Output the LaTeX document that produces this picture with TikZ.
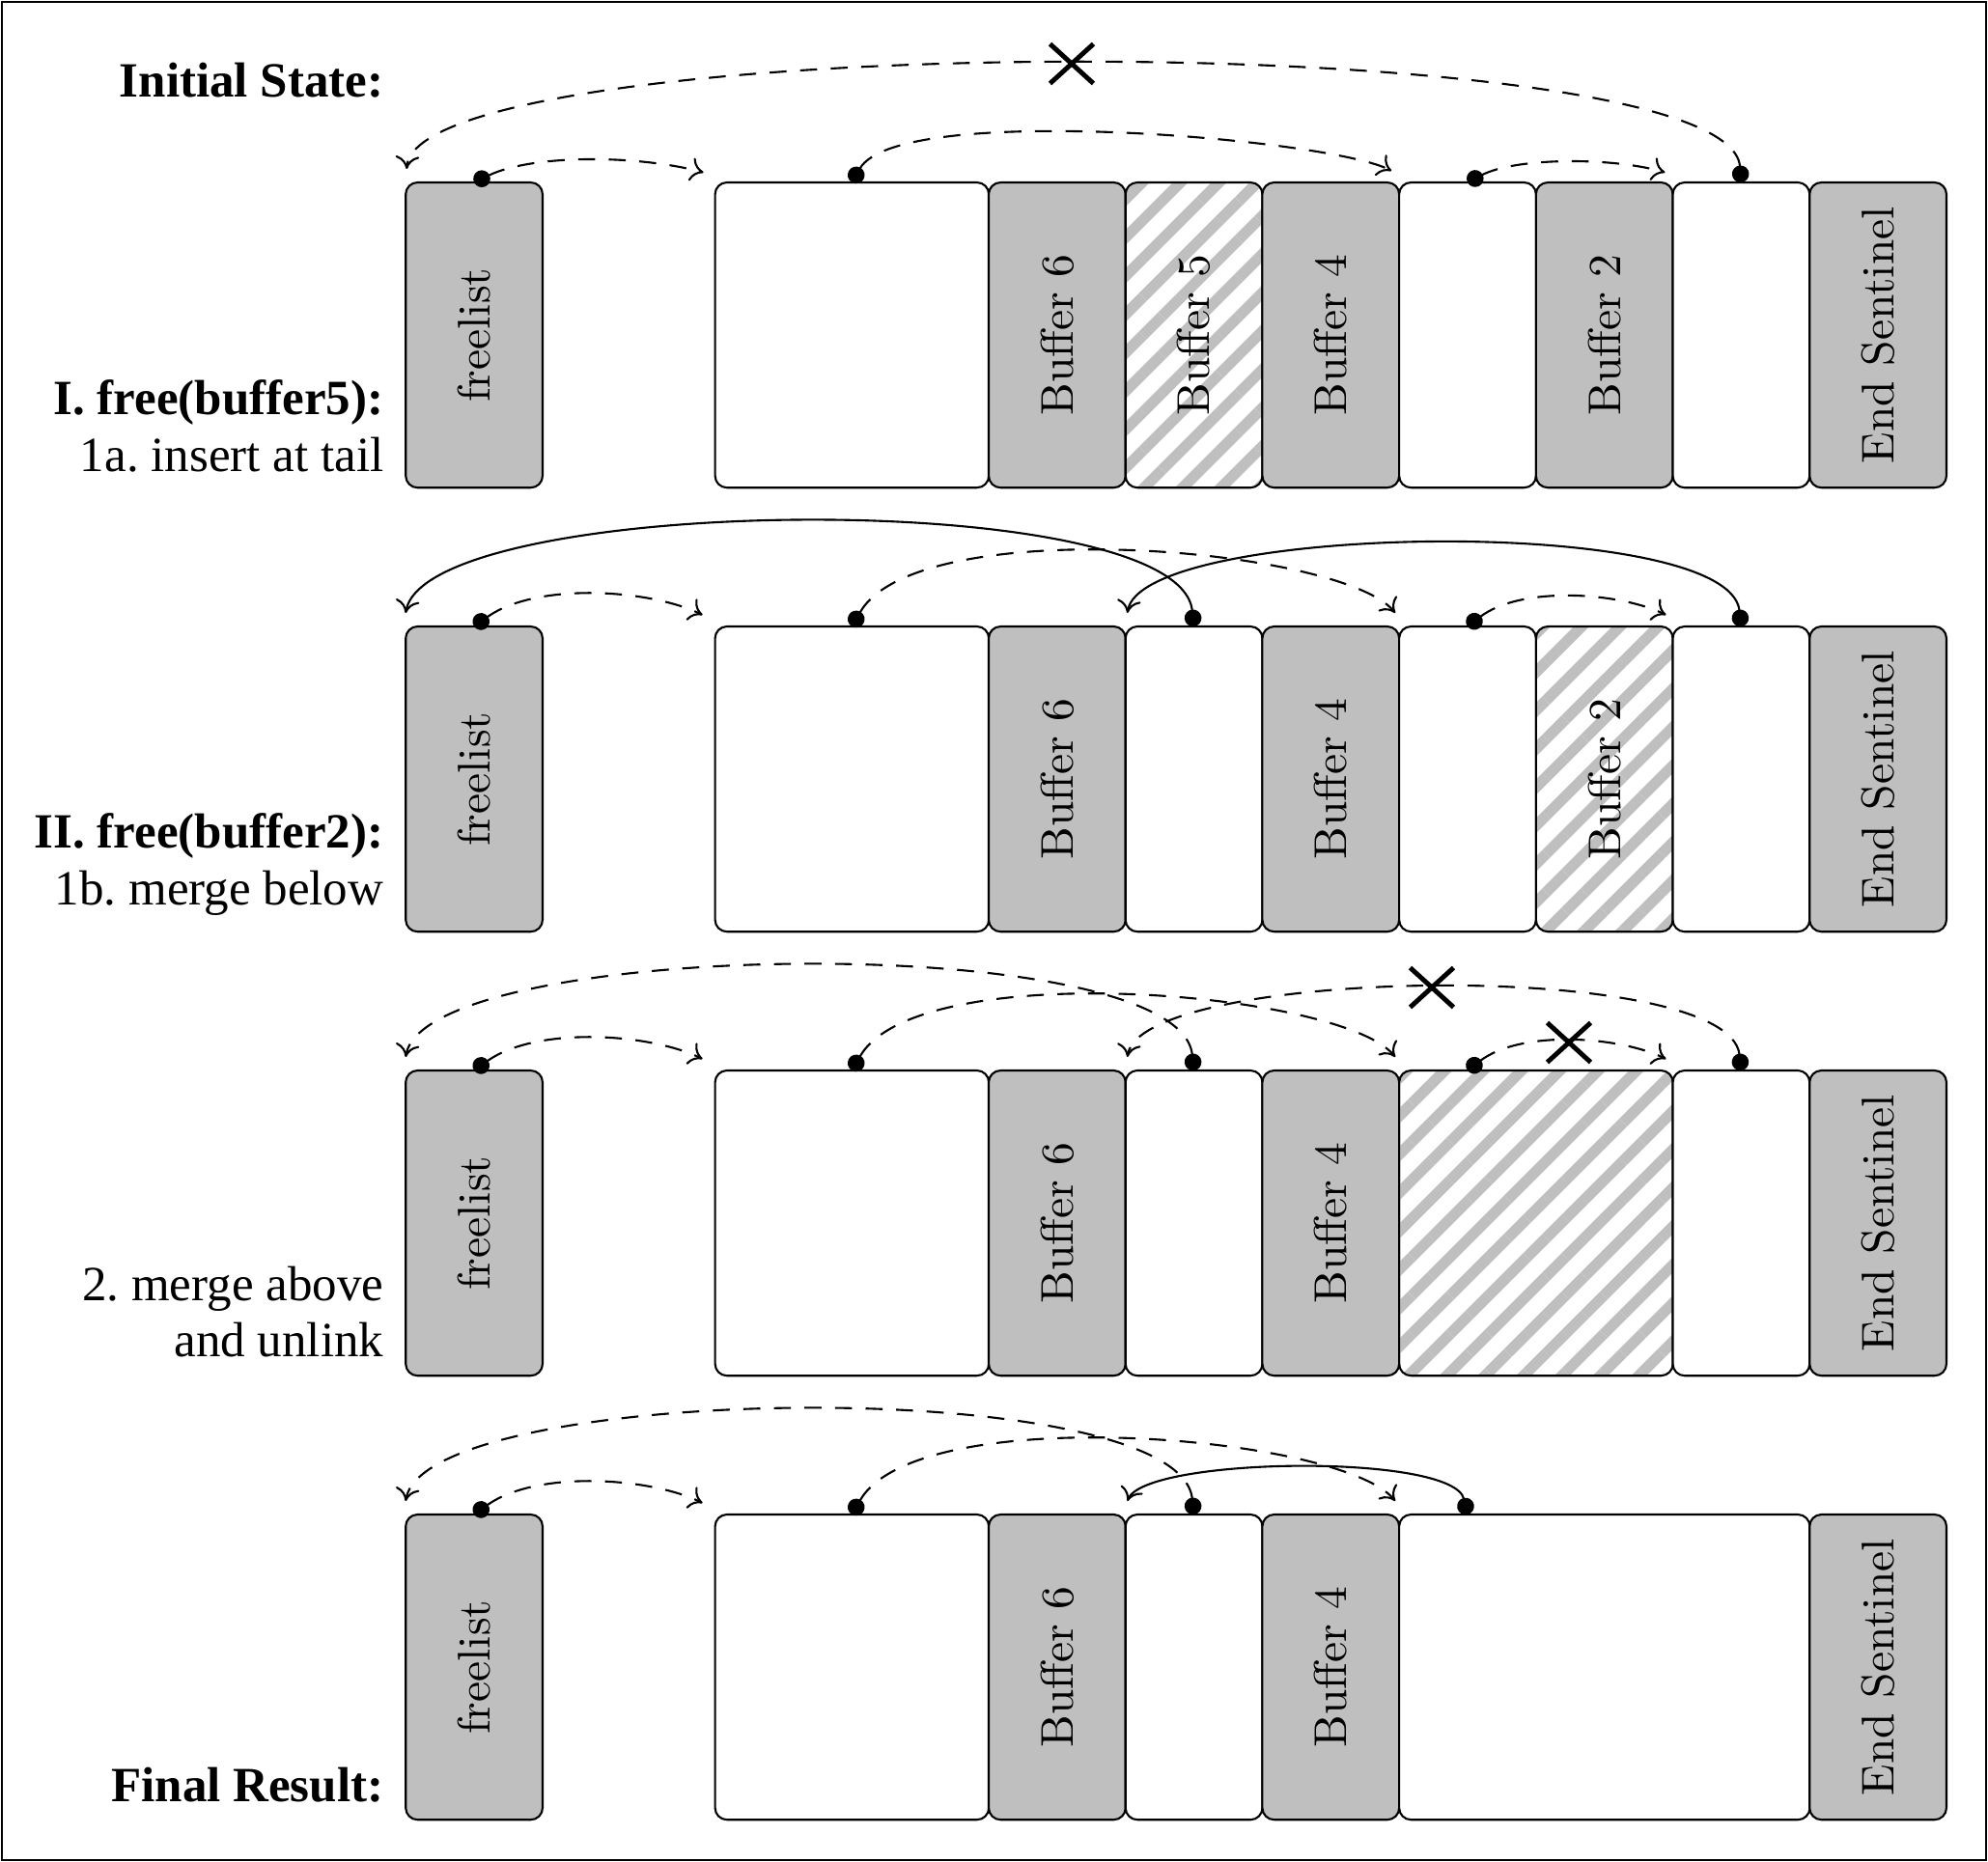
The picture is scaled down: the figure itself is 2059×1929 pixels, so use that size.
\documentclass[tikz,border=0pt]{standalone}
\usepackage{fontspec}
\usepackage{graphicx}
\newfontfamily\labelfont{Liberation Serif}
\newfontfamily\boxfont{lmroman10-regular}[Extension=.otf]
\usetikzlibrary{calc,arrows.meta,patterns.meta,shapes.misc}
\begin{document}
\frenchspacing
\begin{tikzpicture}[x=0.01cm,y=0.01cm,
  box/.style={draw, line width=0.6pt, rounded corners=3.5pt, fill=white, minimum height=3.16cm, minimum width=1.417cm, inner sep=0pt, outer sep=0pt, anchor=north west, font=\boxfont\fontsize{13.5}{16}\selectfont},
  used/.style={box, fill=lightgray},
  freed/.style={box, pattern={Lines[angle=45,distance=8pt,line width=3.2pt]}, pattern color=lightgray},
  dbl/.style={minimum width=2.834cm},
  tpl/.style={minimum width=4.251cm},
  lbl/.style={font=\labelfont\fontsize{14.5}{17}\selectfont, anchor=base east, inner sep=0pt},
  link/.style={line width=0.6pt, {Circle[length=5pt]}-{Computer Modern Rightarrow[length=3.8pt,width=7pt]}},
  dlink/.style={link, dash pattern=on 5pt off 4pt},
  xmark/.style={cross out, draw, line width=1.4pt, minimum width=0.4cm, minimum height=0.36cm, inner sep=0pt}
]
\useasboundingbox (0,0) rectangle (2059,-1929);
\draw[line width=0.7pt] (2,-2) rectangle (2057,-1927);

% labels
\node[lbl] (t1) at (398,-100) {\bfseries Initial State:};
\node[lbl] (t2) at (398,-429) {\bfseries I. free(buffer5):};
\node[lbl] (t3) at (398,-488) {1a. insert at tail};
\node[lbl] (t4) at (398,-878) {\bfseries II. free(buffer2):};
\node[lbl] (t5) at (398,-937) {1b. merge below};
\node[lbl] (t6) at (398,-1347) {2. merge above};
\node[lbl] (t7) at (398,-1405) {and unlink};
\node[lbl] (t8) at (398,-1866) {\bfseries Final Result:};

% ---------- row 1 ----------
\node[used] (r1fl) at (420.2,-189) {\rotatebox{90}{freelist}};
\node[box,dbl] (r1w1) at (740.6,-189) {};
\node[used] (r1b6) at (1024,-189) {\rotatebox{90}{Buffer 6}};
\node[freed] (r1c5) at (1165.7,-189) {\rotatebox{90}{Buffer 5}};
\node[used] (r1b4) at (1307.4,-189) {\rotatebox{90}{Buffer 4}};
\node[box] (r1c7) at (1449.1,-189) {};
\node[used] (r1c8) at (1590.8,-189) {\rotatebox{90}{Buffer 2}};
\node[box] (r1c9) at (1732.5,-189) {};
\node[used] (r1es) at (1874.2,-189) {\rotatebox{90}{End Sentinel}};
\coordinate (r1tfl) at ($(r1fl.north west)+(1,14)$);
\coordinate (r1tw1) at ($(r1w1.north west)+(-12,10.4)$);
\coordinate (r1tc7) at ($(r1c7.north west)+(-8,12)$);
\coordinate (r1tc9) at ($(r1c9.north west)+(-8,10.4)$);
\draw[dlink] (r1fl.north) .. controls ($(r1fl.north)+(60,29)$) and ($(r1tw1)+(-70,18.6)$) .. (r1tw1);
\draw[dlink] (r1w1.north) .. controls ($(r1w1.north)+(48,84)$) and ($(r1tc7)+(-61,33)$) .. (r1tc7);
\draw[dlink] (r1c7.north) .. controls ($(r1c7.north)+(50,26)$) and ($(r1tc9)+(-55,16)$) .. (r1tc9);
\draw[dlink] (r1c9.north) .. controls ($(r1c9.north)+(-13,164)$) and ($(r1tfl)+(9,145)$) .. (r1tfl);
\node[xmark] (r1x) at (1110,-66) {};

% ---------- row 2 ----------
\node[used] (r2fl) at (420.2,-649) {\rotatebox{90}{freelist}};
\node[box,dbl] (r2w1) at (740.6,-649) {};
\node[used] (r2b6) at (1024,-649) {\rotatebox{90}{Buffer 6}};
\node[box] (r2c5) at (1165.7,-649) {};
\node[used] (r2b4) at (1307.4,-649) {\rotatebox{90}{Buffer 4}};
\node[box] (r2c7) at (1449.1,-649) {};
\node[freed] (r2c8) at (1590.8,-649) {\rotatebox{90}{Buffer 2}};
\node[box] (r2c9) at (1732.5,-649) {};
\node[used] (r2es) at (1874.2,-649) {\rotatebox{90}{End Sentinel}};
\coordinate (r2tfl) at ($(r2fl.north west)+(0,14)$);
\coordinate (r2tw1) at ($(r2w1.north west)+(-13,12)$);
\coordinate (r2tc5) at ($(r2c5.north west)+(2,14)$);
\coordinate (r2tc7) at ($(r2c7.north west)+(-4,14)$);
\coordinate (r2tc9) at ($(r2c9.north west)+(-7,12)$);
\draw[dlink] (r2fl.north) .. controls ($(r2fl.north)+(64,46)$) and ($(r2tw1)+(-55.5,27)$) .. (r2tw1);
\draw[dlink] (r2w1.north) .. controls ($(r2w1.north)+(68,119)$) and ($(r2tc7)+(-55,68)$) .. (r2tc7);
\draw[dlink] (r2c7.north) .. controls ($(r2c7.north)+(55,42)$) and ($(r2tc9)+(-50,24)$) .. (r2tc9);
\draw[link] (r2c5.north) .. controls ($(r2c5.north)+(-16,147)$) and ($(r2tfl)+(20,123)$) .. (r2tfl);
\draw[link] (r2c9.north) .. controls ($(r2c9.north)+(-13,117)$) and ($(r2tc5)+(12.5,93)$) .. (r2tc5);

% ---------- row 3 ----------
\node[used] (r3fl) at (420.2,-1109) {\rotatebox{90}{freelist}};
\node[box,dbl] (r3w1) at (740.6,-1109) {};
\node[used] (r3b6) at (1024,-1109) {\rotatebox{90}{Buffer 6}};
\node[box] (r3c5) at (1165.7,-1109) {};
\node[used] (r3b4) at (1307.4,-1109) {\rotatebox{90}{Buffer 4}};
\node[freed,dbl] (r3m) at (1449.1,-1109) {};
\node[box] (r3c9) at (1732.5,-1109) {};
\node[used] (r3es) at (1874.2,-1109) {\rotatebox{90}{End Sentinel}};
\coordinate (r3mh) at ($(r3m.north west)+(70.85,0)$);
\coordinate (r3tfl) at ($(r3fl.north west)+(0,14)$);
\coordinate (r3tw1) at ($(r3w1.north west)+(-13,12)$);
\coordinate (r3tc5) at ($(r3c5.north west)+(2,14)$);
\coordinate (r3tm) at ($(r3m.north west)+(-4,14)$);
\coordinate (r3tc9) at ($(r3c9.north west)+(-7,12)$);
\draw[dlink] (r3fl.north) .. controls ($(r3fl.north)+(64,46)$) and ($(r3tw1)+(-55.5,27)$) .. (r3tw1);
\draw[dlink] (r3w1.north) .. controls ($(r3w1.north)+(68,119)$) and ($(r3tm)+(-55,68)$) .. (r3tm);
\draw[dlink] (r3c5.north) .. controls ($(r3c5.north)+(-16,147)$) and ($(r3tfl)+(20,123)$) .. (r3tfl);
\draw[dlink] (r3c9.north) .. controls ($(r3c9.north)+(-13,117)$) and ($(r3tc5)+(12.5,93)$) .. (r3tc5);
\draw[dlink] (r3mh) .. controls ($(r3mh)+(55,42)$) and ($(r3tc9)+(-50,24)$) .. (r3tc9);
\node[xmark] (r3xa) at (1483,-1023) {};
\node[xmark] (r3xb) at (1625,-1080) {};

% ---------- row 4 ----------
\node[used] (r4fl) at (420.2,-1569) {\rotatebox{90}{freelist}};
\node[box,dbl] (r4w1) at (740.6,-1569) {};
\node[used] (r4b6) at (1024,-1569) {\rotatebox{90}{Buffer 6}};
\node[box] (r4c5) at (1165.7,-1569) {};
\node[used] (r4b4) at (1307.4,-1569) {\rotatebox{90}{Buffer 4}};
\node[box,tpl] (r4m) at (1449.1,-1569) {};
\node[used] (r4es) at (1874.2,-1569) {\rotatebox{90}{End Sentinel}};
\coordinate (r4mh) at ($(r4m.north west)+(70.85,0)$);
\coordinate (r4tfl) at ($(r4fl.north west)+(0,14)$);
\coordinate (r4tw1) at ($(r4w1.north west)+(-13,12)$);
\coordinate (r4tc5) at ($(r4c5.north west)+(2,14)$);
\coordinate (r4tm) at ($(r4m.north west)+(-4,14)$);
\draw[dlink] (r4fl.north) .. controls ($(r4fl.north)+(64,46)$) and ($(r4tw1)+(-55.5,27)$) .. (r4tw1);
\draw[dlink] (r4w1.north) .. controls ($(r4w1.north)+(68,119)$) and ($(r4tm)+(-55,68)$) .. (r4tm);
\draw[dlink] (r4c5.north) .. controls ($(r4c5.north)+(-16,147)$) and ($(r4tfl)+(20,123)$) .. (r4tfl);
\draw[link] (r4mh) .. controls ($(r4mh)+(-15,64)$) and ($(r4tc5)+(17.5,45.7)$) .. (r4tc5);
\end{tikzpicture}
\end{document}
